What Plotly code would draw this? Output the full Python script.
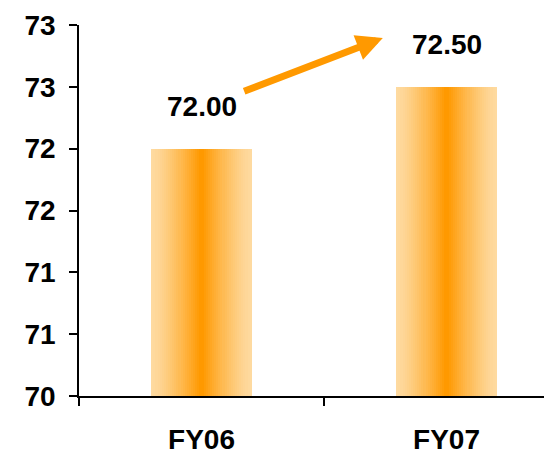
import plotly.graph_objects as go

categories = ["FY06", "FY07"]
values = [72.00, 72.50]
value_labels = ["72.00", "72.50"]
y_tick_vals = [70, 70.5, 71, 71.5, 72, 72.5, 73]
y_tick_text = ["70", "71", "71", "72", "72", "73", "73"]

edge_rgb = (254, 218, 160)
mid_rgb = (255, 153, 0)

fig = go.Figure()

# fake the horizontal gradient: stack narrower, darker copies of the same bars
n_layers = 24
bar_w = 0.41
for i in range(n_layers):
    t = i / (n_layers - 1)
    tt = t ** 1.3
    col = tuple(round(e + (m - e) * tt) for e, m in zip(edge_rgb, mid_rgb))
    fig.add_trace(go.Bar(
        x=categories, y=values,
        width=bar_w * (1 - i / n_layers),
        marker=dict(color="rgb(%d,%d,%d)" % col, line=dict(width=0)),
        showlegend=False, hoverinfo="skip",
    ))

for c, v, lab in zip(categories, values, value_labels):
    fig.add_annotation(x=c, y=v, text=lab, showarrow=False, yanchor="bottom",
                       yshift=25, font=dict(size=28, color="black", weight="bold"))

# growth arrow from FY06 label towards FY07 label
fig.add_annotation(x=0.74, y=72.895, ax=0.168, ay=72.46, xref="x", yref="y",
                   axref="x", ayref="y", text="", showarrow=True,
                   arrowhead=2, arrowsize=0.75, arrowwidth=7, arrowcolor="#FF9900")

# page body has an 8px margin, so the figure is drawn 8px in from the corner
fig.update_layout(
    barmode="overlay",
    width=544, height=446,
    margin=dict(l=71, r=0, t=17, b=58),
    plot_bgcolor="white", paper_bgcolor="white",
    font=dict(family="Arial, Liberation Sans, sans-serif", size=28, color="black", weight="bold"),
    bargap=0,
)
fig.update_xaxes(
    type="category", range=[-0.5, -0.5 + 473 / 245],
    showline=True, linecolor="black", linewidth=1.5,
    ticks="outside", ticklen=8, tickwidth=1.5, tickcolor="black",
    tickson="boundaries", showgrid=False, zeroline=False,
    ticklabelstandoff=18, automargin=False,
)
fig.update_yaxes(
    range=[70, 73], tickvals=y_tick_vals, ticktext=y_tick_text,
    showline=True, linecolor="black", linewidth=1.5,
    ticks="outside", ticklen=8, tickwidth=1.5, tickcolor="black",
    showgrid=False, zeroline=False, ticklabelstandoff=8, automargin=False,
)

fig.write_html("out.html")
